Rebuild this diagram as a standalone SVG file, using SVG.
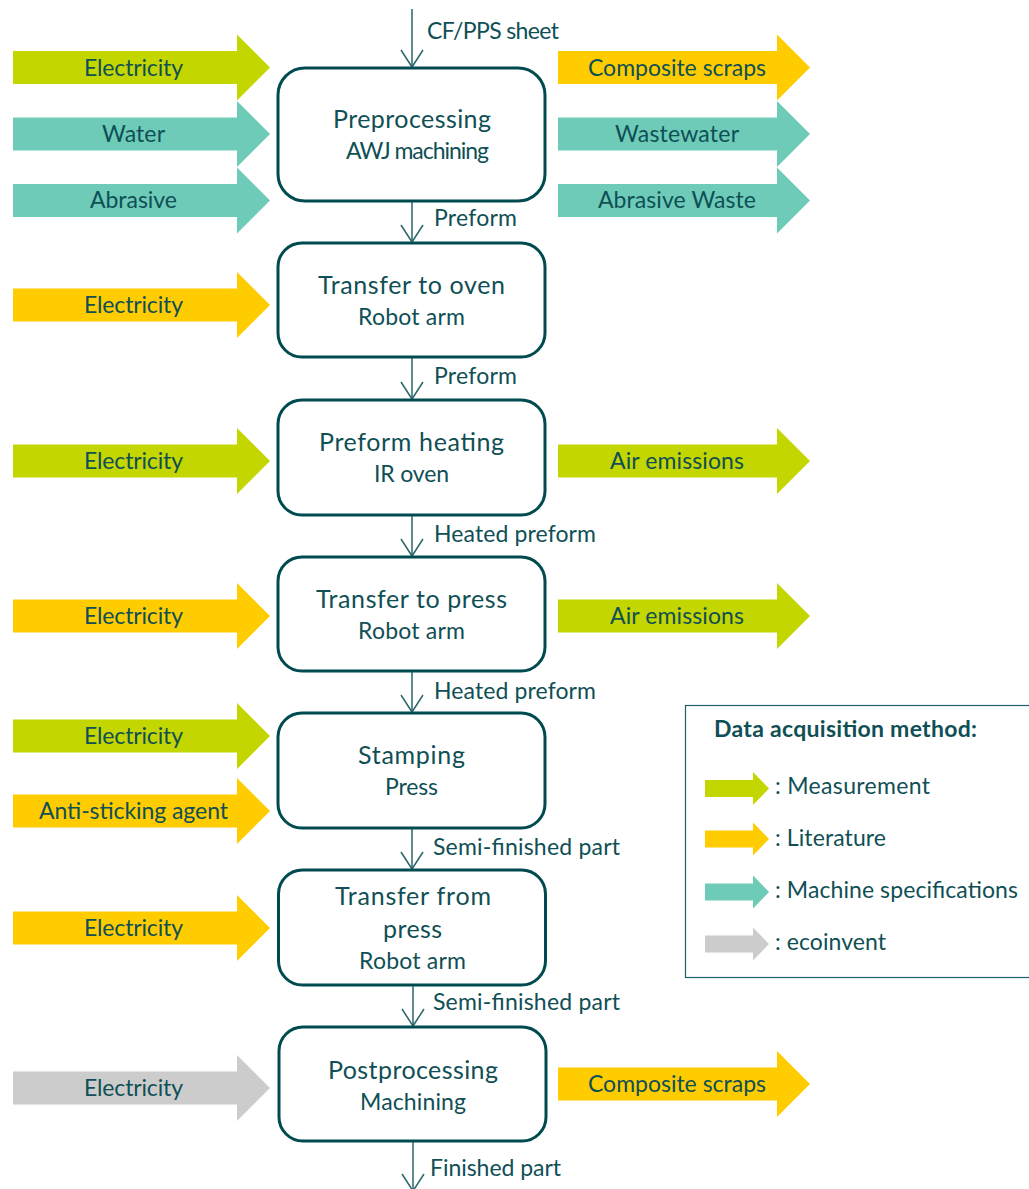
<svg xmlns="http://www.w3.org/2000/svg" width="1029" height="1189" viewBox="0 0 1029 1189">
<style>
text{font-family:"Lato","Open Sans","Liberation Sans",sans-serif;fill:#0f4f55;font-size:23px}
.t{font-size:25px}
.box{fill:#fff;stroke:#004b50;stroke-width:3}
.con{fill:none;stroke:#2a666a;stroke-width:1.5;marker-end:url(#chev)}
.lime{fill:#c4d600}.yel{fill:#ffcc00}.teal{fill:#6dcbb8}.gry{fill:#cccccc}
</style>
<defs>
<marker id="chev" markerUnits="userSpaceOnUse" markerWidth="30" markerHeight="30" refX="18" refY="15" orient="auto" viewBox="0 0 30 30" overflow="visible"><path d="M1 4 18 15 1 26" fill="none" stroke="#2a666a" stroke-width="1.500"/></marker>
<polygon id="la" points="13,-16.500 237,-16.500 237,-33 270,0 237,33 237,16.500 13,16.500"/>
<polygon id="ra" points="558,-16.500 777,-16.500 777,-33 810,0 777,33 777,16.500 558,16.500"/>
<polygon id="ka" points="705,-8.500 753,-8.500 753,-16.500 769,0 753,16.500 753,8.500 705,8.500"/>
</defs>
<g id="connectors">
<path class="con" d="M412 9V67"/>
<path class="con" d="M412 201V242"/>
<path class="con" d="M412 357V399"/>
<path class="con" d="M412 515V556"/>
<path class="con" d="M412 671V712"/>
<path class="con" d="M412 828V869"/>
<path class="con" d="M413 985V1026"/>
<path class="con" d="M413 1141V1191"/>
</g>
<g id="connector-labels">
<text x="427" y="39" textLength="132">CF/PPS sheet</text>
<text x="434" y="226" textLength="83">Preform</text>
<text x="434" y="384" textLength="83">Preform</text>
<text x="434" y="542" textLength="162">Heated preform</text>
<text x="434" y="699" textLength="162">Heated preform</text>
<text x="433" y="855" textLength="187">Semi-finished part</text>
<text x="433" y="1010" textLength="187">Semi-finished part</text>
<text x="430" y="1176" textLength="131">Finished part</text>
</g>
<g id="node-preprocessing"><rect class="box" x="278" y="68" width="267" height="133" rx="27"/><text class="t" x="333" y="128" textLength="158">Preprocessing</text><text x="346" y="159" textLength="143">AWJ machining</text></g>
<g id="node-transfer-oven"><rect class="box" x="278" y="243" width="267" height="114" rx="24"/><text class="t" x="318" y="294" textLength="187">Transfer to oven</text><text x="358" y="325" textLength="107">Robot arm</text></g>
<g id="node-heating"><rect class="box" x="278" y="400" width="267" height="115" rx="24"/><text class="t" x="319" y="451" textLength="185">Preform heating</text><text x="374" y="482" textLength="75">IR oven</text></g>
<g id="node-transfer-press"><rect class="box" x="278" y="557" width="267" height="114" rx="24"/><text class="t" x="316" y="608" textLength="191">Transfer to press</text><text x="358" y="639" textLength="107">Robot arm</text></g>
<g id="node-stamping"><rect class="box" x="278" y="713" width="267" height="115" rx="24"/><text class="t" x="358" y="764" textLength="107">Stamping</text><text x="385" y="795" textLength="53">Press</text></g>
<g id="node-transfer-from"><rect class="box" x="278.500" y="870" width="267" height="115" rx="24"/><text class="t" x="335" y="905" textLength="156">Transfer from</text><text class="t" x="383" y="938" textLength="59">press</text><text x="359" y="969" textLength="107">Robot arm</text></g>
<g id="node-postprocessing"><rect class="box" x="279" y="1027" width="267" height="114" rx="24"/><text class="t" x="328" y="1079" textLength="170">Postprocessing</text><text x="360" y="1110" textLength="106">Machining</text></g>
<g id="in-1"><use href="#la" class="lime" y="67.500"/><text x="84" y="76" textLength="99">Electricity</text></g>
<g id="in-2"><use href="#la" class="teal" y="134"/><text x="102" y="142" textLength="63">Water</text></g>
<g id="in-3"><use href="#la" class="teal" y="200.500"/><text x="90" y="208" textLength="87">Abrasive</text></g>
<g id="in-4"><use href="#la" class="yel" y="305"/><text x="84" y="313" textLength="99">Electricity</text></g>
<g id="in-5"><use href="#la" class="lime" y="461"/><text x="84" y="469" textLength="99">Electricity</text></g>
<g id="in-6"><use href="#la" class="yel" y="616"/><text x="84" y="624" textLength="99">Electricity</text></g>
<g id="in-7"><use href="#la" class="lime" y="736"/><text x="84" y="744" textLength="99">Electricity</text></g>
<g id="in-8"><use href="#la" class="yel" y="811"/><text x="39" y="819" textLength="189">Anti-sticking agent</text></g>
<g id="in-9"><use href="#la" class="yel" y="928"/><text x="84" y="936" textLength="99">Electricity</text></g>
<g id="in-10"><use href="#la" class="gry" y="1088"/><text x="84" y="1096" textLength="99">Electricity</text></g>
<g id="out-1"><use href="#ra" class="yel" y="67.500"/><text x="588" y="76" textLength="178">Composite scraps</text></g>
<g id="out-2"><use href="#ra" class="teal" y="134"/><text x="615" y="142" textLength="124">Wastewater</text></g>
<g id="out-3"><use href="#ra" class="teal" y="200.500"/><text x="598" y="208" textLength="158">Abrasive Waste</text></g>
<g id="out-4"><use href="#ra" class="lime" y="461"/><text x="610" y="469" textLength="134">Air emissions</text></g>
<g id="out-5"><use href="#ra" class="lime" y="616"/><text x="610" y="624" textLength="134">Air emissions</text></g>
<g id="out-6"><use href="#ra" class="yel" y="1084"/><text x="588" y="1092" textLength="178">Composite scraps</text></g>
<g id="legend">
<rect x="685.500" y="705.500" width="350" height="272" fill="#fff" stroke="#1f5f68" stroke-width="1.200"/>
<text x="714" y="737" textLength="263" style="font-weight:700">Data acquisition method:</text>
<use href="#ka" class="lime" y="788.500"/><text x="775" y="794" textLength="155">: Measurement</text>
<use href="#ka" class="yel" y="839"/><text x="775" y="846" textLength="111">: Literature</text>
<use href="#ka" class="teal" y="892"/><text x="775" y="898" textLength="243">: Machine specifications</text>
<use href="#ka" class="gry" y="944"/><text x="775" y="950" textLength="111">: ecoinvent</text>
</g>
</svg>
